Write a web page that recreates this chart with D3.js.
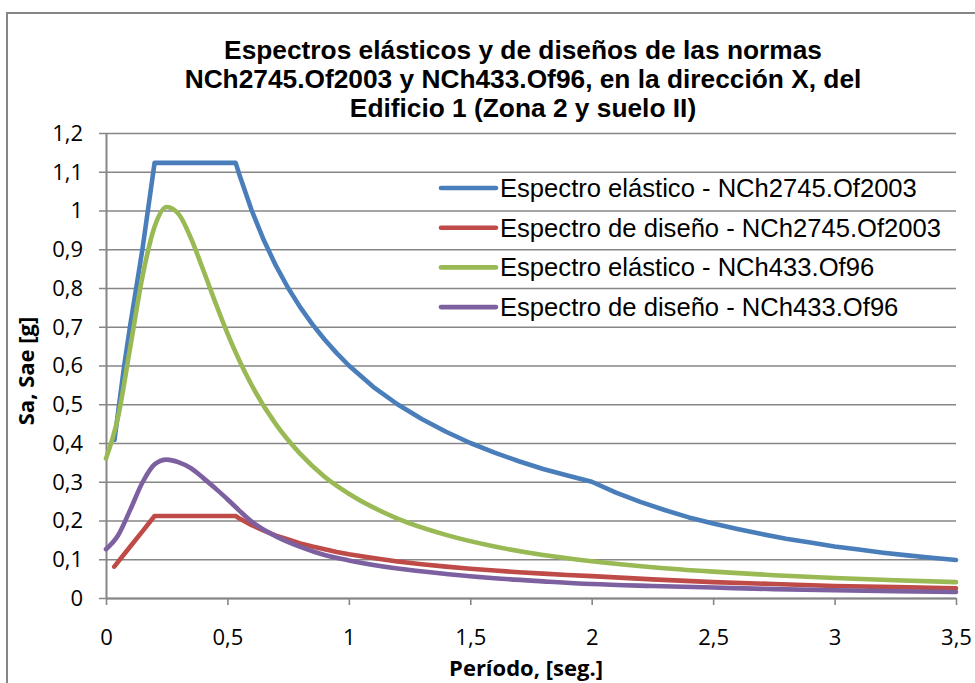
<!DOCTYPE html>
<html>
<head>
<meta charset="utf-8">
<script src="https://cdn.jsdelivr.net/npm/d3@7"></script>
<style>
  html, body { margin: 0; padding: 0; background: #ffffff; }
  svg { display: block; }
</style>
</head>
<body>
<svg id="chart" width="975" height="683"></svg>
<script>
// ---------------- DATA ----------------
const titleLines = [
  "Espectros elásticos y de diseños de las normas",
  "NCh2745.Of2003 y NCh433.Of96, en la dirección X, del",
  "Edificio 1 (Zona 2 y suelo II)"
];
const xTitle = "Período, [seg.]";
const yTitle = "Sa, Sae [g]";
const xTicks = [0, 0.5, 1, 1.5, 2, 2.5, 3, 3.5];
const yTicks = [0, 0.1, 0.2, 0.3, 0.4, 0.5, 0.6, 0.7, 0.8, 0.9, 1, 1.1, 1.2];
const seriesNames = [
  "Espectro elástico - NCh2745.Of2003",
  "Espectro de diseño - NCh2745.Of2003",
  "Espectro elástico - NCh433.Of96",
  "Espectro de diseño - NCh433.Of96"
];
const seriesColors = ["#4A7EBB", "#BE4B48", "#98B954", "#7D60A0"];

// Espectro elástico - NCh2745.Of2003
const periodsElas2745 = [0.035, 0.05, 0.075, 0.1, 0.15, 0.2, 0.534, 0.55, 0.6, 0.65, 0.7, 0.75, 0.8, 0.85, 0.9, 0.95, 1.0,
  1.1, 1.2, 1.3, 1.4, 1.5, 1.6, 1.7, 1.8, 1.9, 2.0, 2.1, 2.2, 2.3, 2.4, 2.5, 2.6, 2.7, 2.8, 2.9, 3.0, 3.1, 3.2, 3.3, 3.4, 3.5];
const valuesElas2745 = [0.408, 0.48, 0.6, 0.705, 0.9, 1.123, 1.123, 1.091, 1.0, 0.923, 0.857, 0.8, 0.75, 0.706, 0.667, 0.632, 0.6,
  0.545, 0.5, 0.462, 0.429, 0.4, 0.375, 0.353, 0.333, 0.316, 0.3, 0.272, 0.248, 0.227, 0.208, 0.192, 0.178, 0.165, 0.153, 0.143,
  0.133, 0.125, 0.117, 0.110, 0.104, 0.098];

// Espectro de diseño - NCh2745.Of2003
const periodsDis2745 = [0.034, 0.1, 0.15, 0.2, 0.534, 0.55, 0.6, 0.65, 0.7, 0.75, 0.8, 0.85, 0.9, 0.95, 1.0,
  1.1, 1.2, 1.3, 1.4, 1.5, 1.6, 1.7, 1.8, 1.9, 2.0, 2.25, 2.5, 2.75, 3.0, 3.25, 3.5];
const valuesDis2745 = [0.081, 0.133, 0.172, 0.2116, 0.2116, 0.205, 0.188, 0.174, 0.161, 0.151, 0.141, 0.133, 0.126, 0.119, 0.113,
  0.103, 0.094, 0.087, 0.081, 0.0755, 0.071, 0.0665, 0.063, 0.0595, 0.0565, 0.048, 0.041, 0.036, 0.031, 0.028, 0.025];

// Espectro elástico - NCh433.Of96
const periodsElas433 = [0, 0.05, 0.1, 0.15, 0.2, 0.25, 0.3, 0.35, 0.4, 0.45, 0.5, 0.6, 0.7, 0.8, 0.9, 1.0,
  1.2, 1.4, 1.6, 1.8, 2.0, 2.25, 2.5, 2.75, 3.0, 3.25, 3.5];
const valuesElas433 = [0.36, 0.468, 0.648, 0.829, 0.958, 1.009, 0.99, 0.928, 0.847, 0.763, 0.683, 0.549, 0.448, 0.372, 0.313, 0.269,
  0.205, 0.163, 0.133, 0.111, 0.095, 0.0795, 0.068, 0.0588, 0.0515, 0.0457, 0.0409];

// Espectro de diseño - NCh433.Of96
const periodsDis433 = [0, 0.05, 0.1, 0.15, 0.2, 0.25, 0.3, 0.35, 0.4, 0.45, 0.5, 0.55, 0.6, 0.7, 0.8, 0.9, 1.0,
  1.2, 1.4, 1.6, 1.8, 2.0, 2.25, 2.5, 2.75, 3.0, 3.25, 3.5];
const valuesDis433 = [0.126, 0.162, 0.228, 0.298, 0.345, 0.357, 0.350, 0.335, 0.31, 0.283, 0.255, 0.225, 0.197, 0.159, 0.132, 0.111, 0.097,
  0.076, 0.062, 0.051, 0.043, 0.036, 0.031, 0.027, 0.023, 0.020, 0.0175, 0.0155];

// ---------------- CHART ----------------
const svg = d3.select("#chart");
const W = 975, H = 683;
const plot = { left: 106, right: 956, top: 133, bottom: 598 };
const gridColor = "#868686";
const tickFont = "'Open Sans', 'Liberation Sans', sans-serif";
const arial = "'Liberation Sans', Arial, sans-serif";
const fmt = v => String(+v.toFixed(1)).replace(".", ",");

const x = d3.scaleLinear().domain([0, 3.5]).range([plot.left, plot.right]);
const y = d3.scaleLinear().domain([0, 1.2]).range([plot.bottom, plot.top]);

// outer chart border
svg.append("rect")
  .attr("x", 7).attr("y", 13)
  .attr("width", W + 20).attr("height", H + 20)
  .attr("fill", "none").attr("stroke", gridColor).attr("stroke-width", 2);

// title
svg.append("text")
  .attr("font-family", arial).attr("font-weight", "bold").attr("font-size", 26.3)
  .attr("fill", "#000").attr("text-anchor", "middle")
  .selectAll("tspan").data(titleLines).join("tspan")
  .attr("x", 523).attr("y", (d, i) => 59 + i * 29).text(d => d);

// y axis with horizontal gridlines
const yAxis = d3.axisLeft(y).tickValues(yTicks).tickFormat(fmt).tickSizeInner(-(plot.right - plot.left)).tickSizeOuter(0);
const gy = svg.append("g").attr("transform", `translate(${plot.left},0)`).call(yAxis);
gy.select(".domain").attr("stroke", gridColor).attr("stroke-width", 2);
gy.selectAll(".tick line").attr("stroke", gridColor).attr("stroke-width", 1.6).attr("x1", -7);
gy.selectAll(".tick text").attr("font-family", tickFont).attr("font-size", 22).attr("fill", "#000").attr("x", -23).attr("dy", "0.34em");

const xAxis = d3.axisBottom(x).tickValues(xTicks).tickFormat(fmt).tickSizeInner(7).tickSizeOuter(0).tickPadding(24);
const gx = svg.append("g").attr("transform", `translate(0,${plot.bottom})`).call(xAxis);
gx.select(".domain").attr("stroke", gridColor).attr("stroke-width", 2);
gx.selectAll(".tick line").attr("stroke", gridColor).attr("stroke-width", 1.6);
gx.selectAll(".tick text").attr("font-family", tickFont).attr("font-size", 22).attr("fill", "#000");

// axis titles
svg.append("text")
  .attr("font-family", tickFont).attr("font-weight", "bold").attr("font-size", 22)
  .attr("text-anchor", "middle").attr("x", 526).attr("y", 676).text(xTitle);
svg.append("text")
  .attr("font-family", tickFont).attr("font-weight", "bold").attr("font-size", 22)
  .attr("text-anchor", "middle")
  .attr("transform", "translate(34,371) rotate(-90)").text(yTitle);

// series
const series = [
  { t: periodsElas2745, v: valuesElas2745, curve: d3.curveLinear },
  { t: periodsDis2745, v: valuesDis2745, curve: d3.curveLinear },
  { t: periodsElas433, v: valuesElas433, curve: d3.curveMonotoneX },
  { t: periodsDis433, v: valuesDis433, curve: d3.curveMonotoneX }
];
series.forEach((s, i) => {
  const pts = s.t.map((t, k) => [t, s.v[k]]);
  const line = d3.line().x(d => x(d[0])).y(d => y(d[1])).curve(s.curve);
  svg.append("path").datum(pts)
    .attr("d", line)
    .attr("fill", "none")
    .attr("stroke", seriesColors[i])
    .attr("stroke-width", 4.6)
    .attr("stroke-linecap", "round")
    .attr("stroke-linejoin", "round");
});

// legend
const lg = svg.append("g");
const rows = lg.selectAll("g").data(seriesNames).join("g")
  .attr("transform", (d, i) => `translate(441,${188 + i * 39.7})`);
rows.append("line").attr("x1", 0).attr("x2", 55).attr("y1", 0).attr("y2", 0)
  .attr("stroke", (d, i) => seriesColors[i]).attr("stroke-width", 4.6).attr("stroke-linecap", "round");
rows.append("text").attr("x", 59).attr("y", 9)
  .attr("font-family", arial).attr("font-size", 25.6).attr("fill", "#000").text(d => d);
</script>
</body>
</html>
